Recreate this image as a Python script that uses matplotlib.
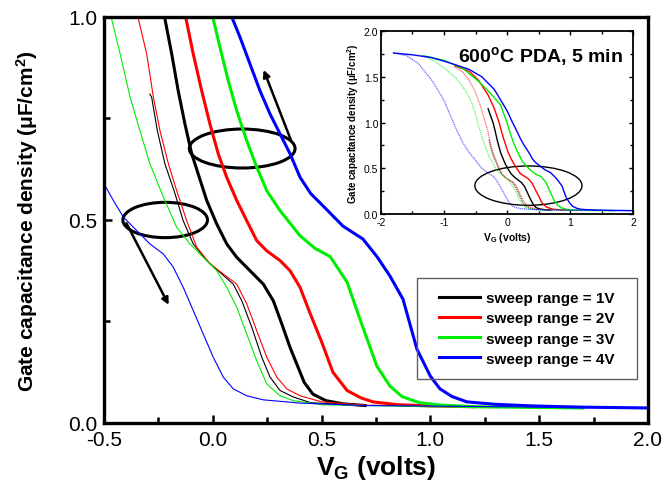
import matplotlib
matplotlib.use('Agg')
import matplotlib.pyplot as plt
from matplotlib.patches import Ellipse, Rectangle
from matplotlib.ticker import MultipleLocator, FormatStrFormatter

plt.rcParams['font.family'] = 'Liberation Sans'
plt.rcParams['mathtext.fontset'] = 'custom'
plt.rcParams['mathtext.rm'] = 'Liberation Sans'
plt.rcParams['mathtext.bf'] = 'Liberation Sans:bold'
plt.rcParams['mathtext.it'] = 'Liberation Sans:italic'
plt.rcParams['axes.unicode_minus'] = False
plt.rcParams['lines.solid_joinstyle'] = 'round'

# forward sweeps (thick) and reverse sweeps (thin), V_G in volts, C in uF/cm2
bk_fx = [-0.30, -0.220, -0.189, -0.159, -0.128, -0.097, -0.067, -0.028, 0.018, 0.064, 0.110, 0.171, 0.232,
         0.278, 0.317, 0.355, 0.386, 0.42, 0.46, 0.52, 0.60, 0.70]
bk_fy = [1.15, 0.995, 0.909, 0.818, 0.736, 0.663, 0.613, 0.548, 0.490, 0.441, 0.408, 0.375, 0.342,
         0.301, 0.244, 0.186, 0.145, 0.100, 0.071, 0.055, 0.047, 0.043]
bk_rx = [-0.289, -0.281, -0.255, -0.220, -0.178, -0.136, -0.090, -0.028, 0.033, 0.094, 0.133, 0.179, 0.225,
         0.263, 0.309, 0.370, 0.45, 0.70]
bk_ry = [0.81, 0.802, 0.720, 0.638, 0.572, 0.498, 0.441, 0.400, 0.371, 0.342, 0.301, 0.236, 0.162,
         0.113, 0.080, 0.064, 0.050, 0.042]

rd_fx = [-0.83, -0.6, -0.45, -0.3, -0.2, -0.123, -0.090, -0.051, -0.013, 0.025, 0.064, 0.110, 0.156, 0.202,
         0.248, 0.309, 0.355, 0.401, 0.447, 0.50, 0.552, 0.617, 0.68, 0.736, 0.85, 1.0, 1.2]
rd_fy = [1.62, 1.56, 1.46, 1.30, 1.15, 0.995, 0.909, 0.818, 0.736, 0.663, 0.605, 0.548, 0.498, 0.449,
         0.424, 0.400, 0.375, 0.334, 0.27, 0.20, 0.125, 0.08, 0.062, 0.052, 0.045, 0.042, 0.04]
rd_rx = [-0.83, -0.7, -0.6, -0.5, -0.42, -0.342, -0.304, -0.273, -0.243, -0.204, -0.166, -0.120, -0.074,
         -0.013, 0.048, 0.110, 0.156, 0.202, 0.248, 0.294, 0.340, 0.401, 0.5, 0.7, 1.2]
rd_ry = [1.61, 1.55, 1.46, 1.33, 1.18, 0.995, 0.909, 0.802, 0.720, 0.638, 0.572, 0.498, 0.433,
         0.392, 0.367, 0.342, 0.293, 0.227, 0.162, 0.113, 0.084, 0.067, 0.052, 0.044, 0.04]

gr_fx = [-1.33, -1.0, -0.7, -0.45, -0.25, -0.1, 0.002, 0.033, 0.071, 0.110, 0.156, 0.202, 0.248, 0.309,
         0.370, 0.401, 0.47, 0.539, 0.617, 0.68, 0.754, 0.814, 0.87, 0.95, 1.05, 1.2, 1.7]
gr_fy = [1.73, 1.68, 1.59, 1.45, 1.31, 1.19, 0.995, 0.925, 0.843, 0.769, 0.695, 0.630, 0.572, 0.523,
         0.482, 0.461, 0.43, 0.41, 0.347, 0.25, 0.14, 0.091, 0.065, 0.05, 0.044, 0.04, 0.037]
gr_rx = [-1.33, -1.15, -1.0, -0.8, -0.65, -0.56, -0.5, -0.465, -0.426, -0.380, -0.335, -0.289, -0.227,
         -0.166, -0.105, -0.044, 0.018, 0.064, 0.110, 0.156, 0.202, 0.248, 0.309, 0.370, 0.5, 1.0, 1.7]
gr_ry = [1.73, 1.67, 1.60, 1.48, 1.34, 1.22, 1.09, 0.995, 0.909, 0.802, 0.720, 0.638, 0.556,
         0.482, 0.441, 0.408, 0.375, 0.334, 0.285, 0.219, 0.153, 0.096, 0.067, 0.055, 0.045, 0.04, 0.037]

bl_fx = [-1.8, -1.5, -1.2, -0.9, -0.6, -0.4, -0.2, 0.0, 0.091, 0.125, 0.171, 0.217, 0.263, 0.309, 0.355,
         0.401, 0.45, 0.506, 0.598, 0.69, 0.754, 0.814, 0.874, 0.938, 1.0, 1.044, 1.1, 1.168, 1.3, 1.47,
         1.7, 2.0]
bl_fy = [1.76, 1.74, 1.71, 1.65, 1.58, 1.50, 1.36, 1.13, 0.995, 0.950, 0.884, 0.818, 0.761, 0.712, 0.663,
         0.605, 0.565, 0.535, 0.485, 0.453, 0.41, 0.362, 0.305, 0.182, 0.115, 0.084, 0.065, 0.052, 0.046,
         0.042, 0.039, 0.037]
bl_rx = [-1.8, -1.59, -1.4, -1.17, -1.0, -0.9, -0.8, -0.7, -0.6, -0.5, -0.457, -0.411, -0.350, -0.289,
         -0.227, -0.182, -0.136, -0.090, -0.044, 0.002, 0.048, 0.094, 0.156, 0.232, 0.401, 0.7, 2.0]
bl_ry = [1.76, 1.73, 1.64, 1.44, 1.24, 1.08, 0.92, 0.78, 0.67, 0.589, 0.548, 0.507, 0.474, 0.441,
         0.416, 0.384, 0.334, 0.277, 0.219, 0.162, 0.113, 0.084, 0.067, 0.057, 0.049, 0.043, 0.037]

labels = ['sweep range = 1V', 'sweep range = 2V', 'sweep range = 3V', 'sweep range = 4V']
colors = ['#000000', '#ff0000', '#00ee00', '#0000ff']
fwd = [(bk_fx, bk_fy), (rd_fx, rd_fy), (gr_fx, gr_fy), (bl_fx, bl_fy)]
rev = [(bk_rx, bk_ry), (rd_rx, rd_ry), (gr_rx, gr_ry), (bl_rx, bl_ry)]

fig = plt.figure(figsize=(6.69, 5.02), dpi=100)
ax = fig.add_axes([0.1555, 0.1554, 0.8131, 0.8088])

handles = []
for (fx, fy), (rx, ry), c, lab in zip(fwd, rev, colors, labels):
    ax.plot(rx, ry, color=c, lw=0.8)
    h, = ax.plot(fx, fy, color=c, lw=2.2, label=lab)
    handles.append(h)

ax.set_xlim(-0.5, 2.0)
ax.set_ylim(0.0, 1.0)
ax.xaxis.set_major_locator(MultipleLocator(0.5))
ax.xaxis.set_minor_locator(MultipleLocator(0.25))
ax.yaxis.set_major_locator(MultipleLocator(0.5))
ax.yaxis.set_minor_locator(MultipleLocator(0.25))
ax.xaxis.set_major_formatter(FormatStrFormatter('%.1f'))
ax.yaxis.set_major_formatter(FormatStrFormatter('%.1f'))
ax.tick_params(which='major', direction='in', length=6, width=1.8, labelsize=15, pad=5)
ax.tick_params(which='minor', direction='in', length=4, width=1.8)
for s in ax.spines.values():
    s.set_linewidth(2.4)
ax.set_xlabel(r'$\mathbf{V_G}$ (volts)', fontsize=19, fontweight='bold', labelpad=3)
ax.set_ylabel('Gate capacitance density (μF/cm$^\\mathbf{2}$)', fontsize=15, fontweight='bold', labelpad=20)

ax.add_patch(Ellipse((0.135, 0.676), 0.486, 0.096, fill=False, lw=2.2, ec='k'))
ax.add_patch(Ellipse((-0.219, 0.50), 0.389, 0.087, fill=False, lw=2.2, ec='k'))
ax.annotate('', xy=(0.229, 0.876), xytext=(0.363, 0.691),
            arrowprops=dict(arrowstyle='-|>', lw=1.8, color='k', mutation_scale=10))
ax.annotate('', xy=(-0.197, 0.285), xytext=(-0.403, 0.498),
            arrowprops=dict(arrowstyle='-|>', lw=1.8, color='k', mutation_scale=10))

# legend box
fig.patches.append(Rectangle((0.6233, 0.2430), 0.3288, 0.2012, transform=fig.transFigure,
                             fill=False, ec='#606060', lw=1.0))
leg = ax.legend(handles=handles, loc='center', bbox_to_anchor=(0.787, 0.3436),
                bbox_transform=fig.transFigure, frameon=False,
                prop={'weight': 'bold', 'size': 11}, handlelength=2.7,
                handletextpad=0.35, labelspacing=0.4)

# inset
ins = fig.add_axes([0.5695, 0.5717, 0.3767, 0.3645])
for (fx, fy), (rx, ry), c in zip(fwd, rev, colors):
    ins.plot(rx, ry, color=c, lw=0.9, ls=(0, (1, 0.6)), alpha=0.6)
    ins.plot(fx, fy, color=c, lw=1.0)
ins.set_xlim(-2, 2)
ins.set_ylim(0, 2.0)
ins.xaxis.set_major_locator(MultipleLocator(1))
ins.xaxis.set_minor_locator(MultipleLocator(0.5))
ins.yaxis.set_major_locator(MultipleLocator(0.5))
ins.yaxis.set_minor_locator(MultipleLocator(0.25))
ins.yaxis.set_major_formatter(FormatStrFormatter('%.1f'))
ins.tick_params(which='both', direction='in', top=True, right=True, labelsize=7.5, pad=2)
ins.tick_params(which='major', length=3, width=1.0)
ins.tick_params(which='minor', length=2, width=1.0)
for s in ins.spines.values():
    s.set_linewidth(1.3)
ins.set_xlabel(r'$\mathbf{V_G}$ (volts)', fontsize=7.5, fontweight='bold', labelpad=2)
ins.set_ylabel('Gate capacitance density (μF/cm$^\\mathbf{2}$)', fontsize=7, fontweight='bold', labelpad=2)
ins.add_patch(Ellipse((0.34, 0.31), 1.70, 0.43, fill=False, lw=1.0, ec='k'))
ins.text(0.96, 0.93, '600$^\\mathbf{o}$C PDA, 5 min', transform=ins.transAxes,
         ha='right', va='top', fontsize=14, fontweight='bold')

fig.savefig('out.png', dpi=100)
